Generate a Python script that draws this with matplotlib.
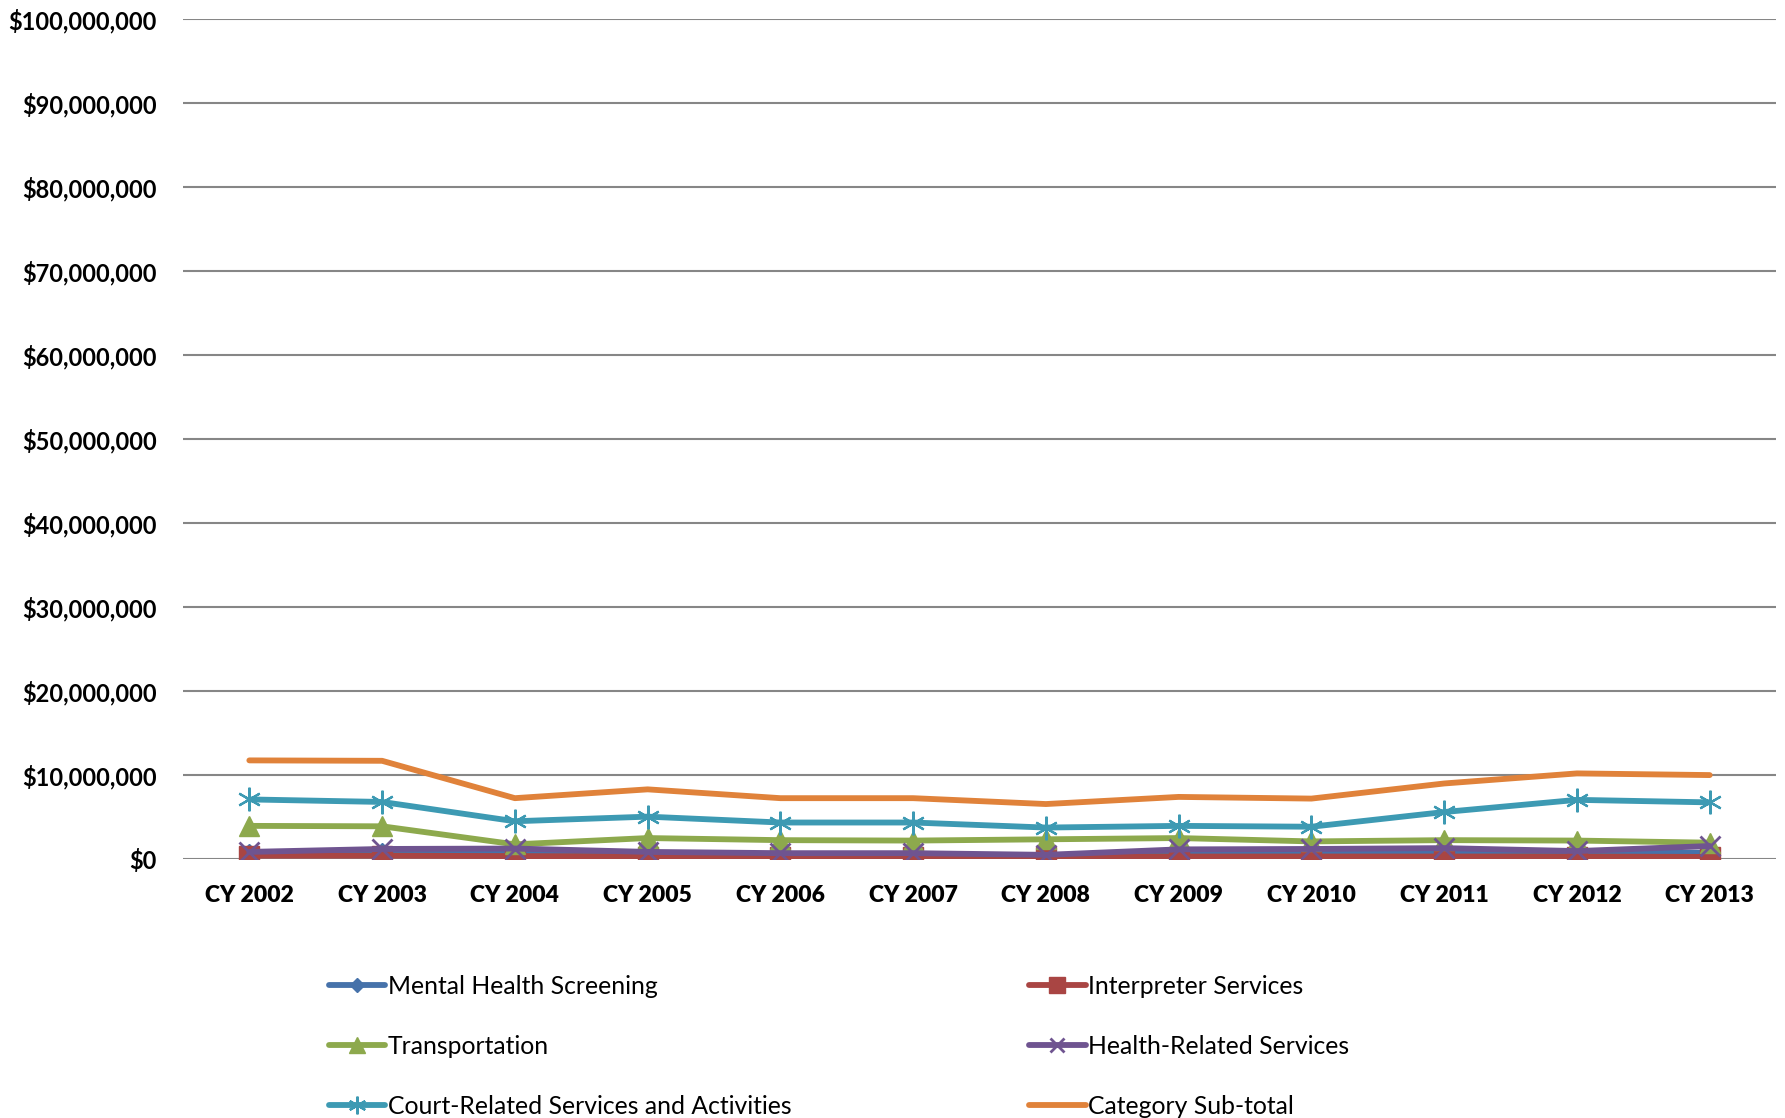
import matplotlib
matplotlib.use("Agg")
import matplotlib.pyplot as plt
from matplotlib.ticker import FuncFormatter, MultipleLocator

years = ["CY 2002", "CY 2003", "CY 2004", "CY 2005", "CY 2006", "CY 2007",
         "CY 2008", "CY 2009", "CY 2010", "CY 2011", "CY 2012", "CY 2013"]

mental_health = [0.60e6, 0.70e6, 0.70e6, 0.55e6, 0.50e6, 0.50e6, 0.35e6, 0.70e6, 0.70e6, 0.70e6, 0.75e6, 0.70e6]
interpreter = [0.35e6, 0.35e6, 0.30e6, 0.25e6, 0.25e6, 0.25e6, 0.25e6, 0.25e6, 0.25e6, 0.25e6, 0.25e6, 0.20e6]
transportation = [3.9e6, 3.85e6, 1.7e6, 2.45e6, 2.2e6, 2.15e6, 2.3e6, 2.45e6, 2.05e6, 2.2e6, 2.15e6, 1.9e6]
health_related = [0.8e6, 1.15e6, 1.2e6, 0.8e6, 0.65e6, 0.65e6, 0.45e6, 1.1e6, 1.15e6, 1.25e6, 0.9e6, 1.5e6]
court_related = [7.05e6, 6.75e6, 4.45e6, 5.0e6, 4.3e6, 4.3e6, 3.7e6, 3.9e6, 3.8e6, 5.55e6, 7.0e6, 6.7e6]
subtotal = [11.7e6, 11.65e6, 7.2e6, 8.25e6, 7.2e6, 7.2e6, 6.5e6, 7.35e6, 7.15e6, 8.95e6, 10.15e6, 9.95e6]

labels = ["Mental Health Screening", "Interpreter Services", "Transportation",
          "Health-Related Services", "Court-Related Services and Activities",
          "Category Sub-total"]

fig = plt.figure(figsize=(17.85, 11.18), dpi=100)
ax = fig.add_axes([0.1025, 0.232, 0.8925, 0.751])

x = list(range(len(years)))
lw = 4.2
series = [
    (mental_health, dict(color="#4672AA", marker="D", markersize=10)),
    (interpreter, dict(color="#A94543", marker="s", markersize=15)),
    (transportation, dict(color="#8DA94D", marker="^", markersize=15)),
    (health_related, dict(color="#6F5490", marker="x", markersize=14, markeredgewidth=2)),
    (court_related, dict(color="#3D9AB3", marker=(6, 2, 0), markersize=17, markeredgewidth=1.6)),
    (subtotal, dict(color="#E0823A", marker=None)),
]
handles = []
for (vals, st), lab in zip(series, labels):
    h, = ax.plot(x, vals, linewidth=lw, label=lab, solid_capstyle="round",
                 markerfacecolor=st["color"], markeredgecolor=st["color"], **st)
    handles.append(h)

ax.set_xlim(-0.5, len(years) - 0.5)
ax.set_ylim(0, 100e6)
ax.yaxis.set_major_locator(MultipleLocator(10e6))
ax.yaxis.set_major_formatter(FuncFormatter(lambda v, p: "${:,.0f}".format(v)))
ax.set_xticks(x)
ax.set_xticklabels(years)
ax.grid(axis="y", color="#868686", linewidth=1.5)
ax.set_axisbelow(True)
for s in ax.spines.values():
    s.set_visible(False)
ax.tick_params(axis="both", length=0)
ax.tick_params(axis="y", pad=19)
ax.tick_params(axis="x", pad=19)
for t in ax.get_yticklabels():
    t.set_fontfamily("Lato")
    t.set_fontweight("bold")
    t.set_fontsize(17)
for t in ax.get_xticklabels():
    t.set_fontfamily("Lato")
    t.set_fontweight("heavy")
    t.set_fontsize(16.5)

order = [0, 2, 4, 1, 3, 5]
leg = fig.legend([handles[i] for i in order], [labels[i] for i in order],
                 ncol=2, loc="upper left", bbox_to_anchor=(0.1785, 0.137),
                 frameon=False, prop={"family": "Lato", "size": 17.8},
                 handlelength=2.3, handletextpad=0.1, columnspacing=9.6,
                 labelspacing=1.5, borderaxespad=0, markerscale=0.75)

fig.savefig("out.png", dpi=100)
